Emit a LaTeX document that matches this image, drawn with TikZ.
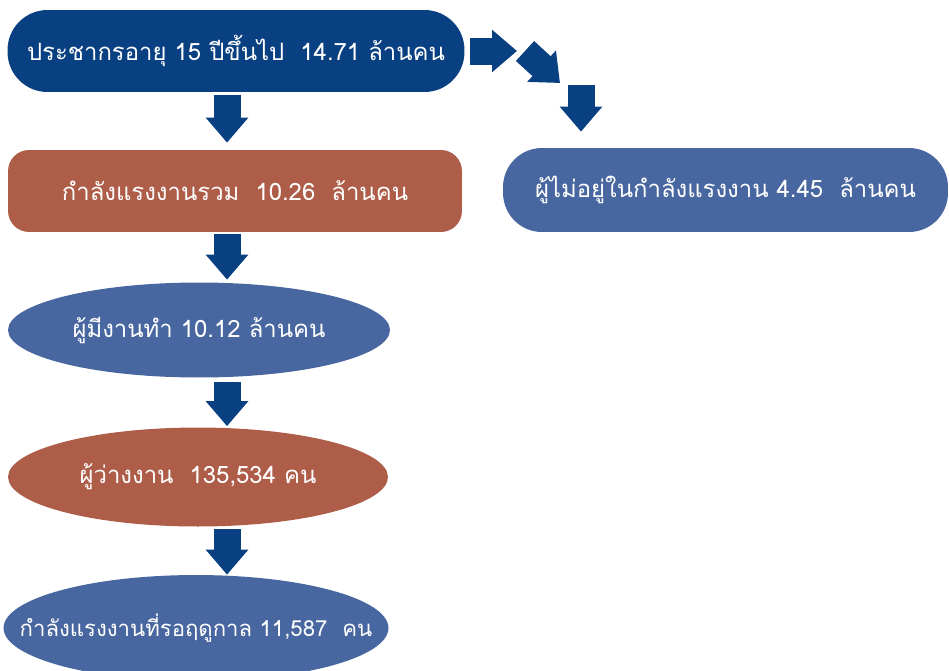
\documentclass[tikz,border=0pt]{standalone}
\usepackage{fontspec}
\newfontfamily\thaifont[Script=Thai]{Loma}
\usetikzlibrary{arrows.meta,shapes.geometric}

\definecolor{navy}{RGB}{9,64,130}
\definecolor{steel}{RGB}{72,102,160}
\definecolor{rust}{RGB}{174,93,73}

\tikzset{
	box/.style={draw=none, text=white, font=\thaifont\fontsize{13.6}{16}\selectfont, inner sep=0pt},
	pill/.style={box, rectangle, minimum width=#1, minimum height=1.64cm, rounded corners=0.8cm},
	blob/.style={box, ellipse, minimum width=#1},
	txt/.style={text=white, font=\thaifont\fontsize{13.6}{16}\selectfont, inner sep=0pt},
	blockarrow/.style={navy, line width=0.54cm, -{Triangle[width=0.82cm,length=0.5cm]}}
}

\begin{document}
\begin{tikzpicture}[x=0.02cm, y=-0.02cm]
	\useasboundingbox (0,0) rectangle (949,670);

	% Left column
	\node[pill=9.14cm, fill=navy] (pop) at (236,51) {ประชากรอายุ 15 ปีขึ้นไป\ \ 14.71 ล้านคน};
	\node[pill=9.08cm, fill=rust, rounded corners=0.42cm] (force) at (235,191) {กำลังแรงงานรวม\ \ 10.26\ \ ล้านคน};
	\node[blob=7.64cm, fill=steel, minimum height=1.9cm, label={[txt]center:ผู้มีงานทำ 10.12 ล้านคน}] (employed) at (199,330) {};
	\node[blob=7.6cm, fill=rust, minimum height=1.98cm, label={[txt]center:ผู้ว่างงาน\ \ 135,534 คน}] (unemployed) at (198,477) {};
	\node[blob=7.7cm, fill=steel, minimum height=2.12cm, label={[txt, font=\thaifont\fontsize{12.6}{15}\selectfont]center:กำลังแรงงานที่รอฤดูกาล 11,587\ \ คน}] (seasonal) at (196,628) {};

	% Right branch
	\node[pill=8.9cm, fill=steel, minimum height=1.68cm, rounded corners=0.78cm] (outside) at (725.5,190) {ผู้ไม่อยู่ในกำลังแรงงาน 4.45\ \ ล้านคน};

	% Arrows
	\coordinate (spine) at (227,0);
	\draw[blockarrow, shorten <=0.06cm, shorten >=0.14cm] (pop.south -| spine) -- (force.north -| spine);
	\draw[blockarrow, shorten <=0.03cm, shorten >=0.05cm] (force.south -| spine) -- (employed.north -| spine);
	\draw[blockarrow, shorten <=0.09cm, shorten >=0.02cm] (employed.south -| spine) -- (unemployed.north -| spine);
	\draw[blockarrow, shorten <=0.04cm] (unemployed.south -| spine) -- (seasonal.north -| spine);

	\coordinate (hop1) at (517,51);
	\coordinate (hop2) at (525,51);
	\coordinate (hop3) at (560,83);
	\coordinate (hop4) at (581,85);
	\draw[blockarrow, shorten <=0.11cm] (pop.east) -- (hop1);
	\draw[blockarrow] (hop2) -- (hop3);
	\draw[blockarrow, shorten >=0.32cm] (hop4) -- (outside.north -| hop4);

\end{tikzpicture}
\end{document}
